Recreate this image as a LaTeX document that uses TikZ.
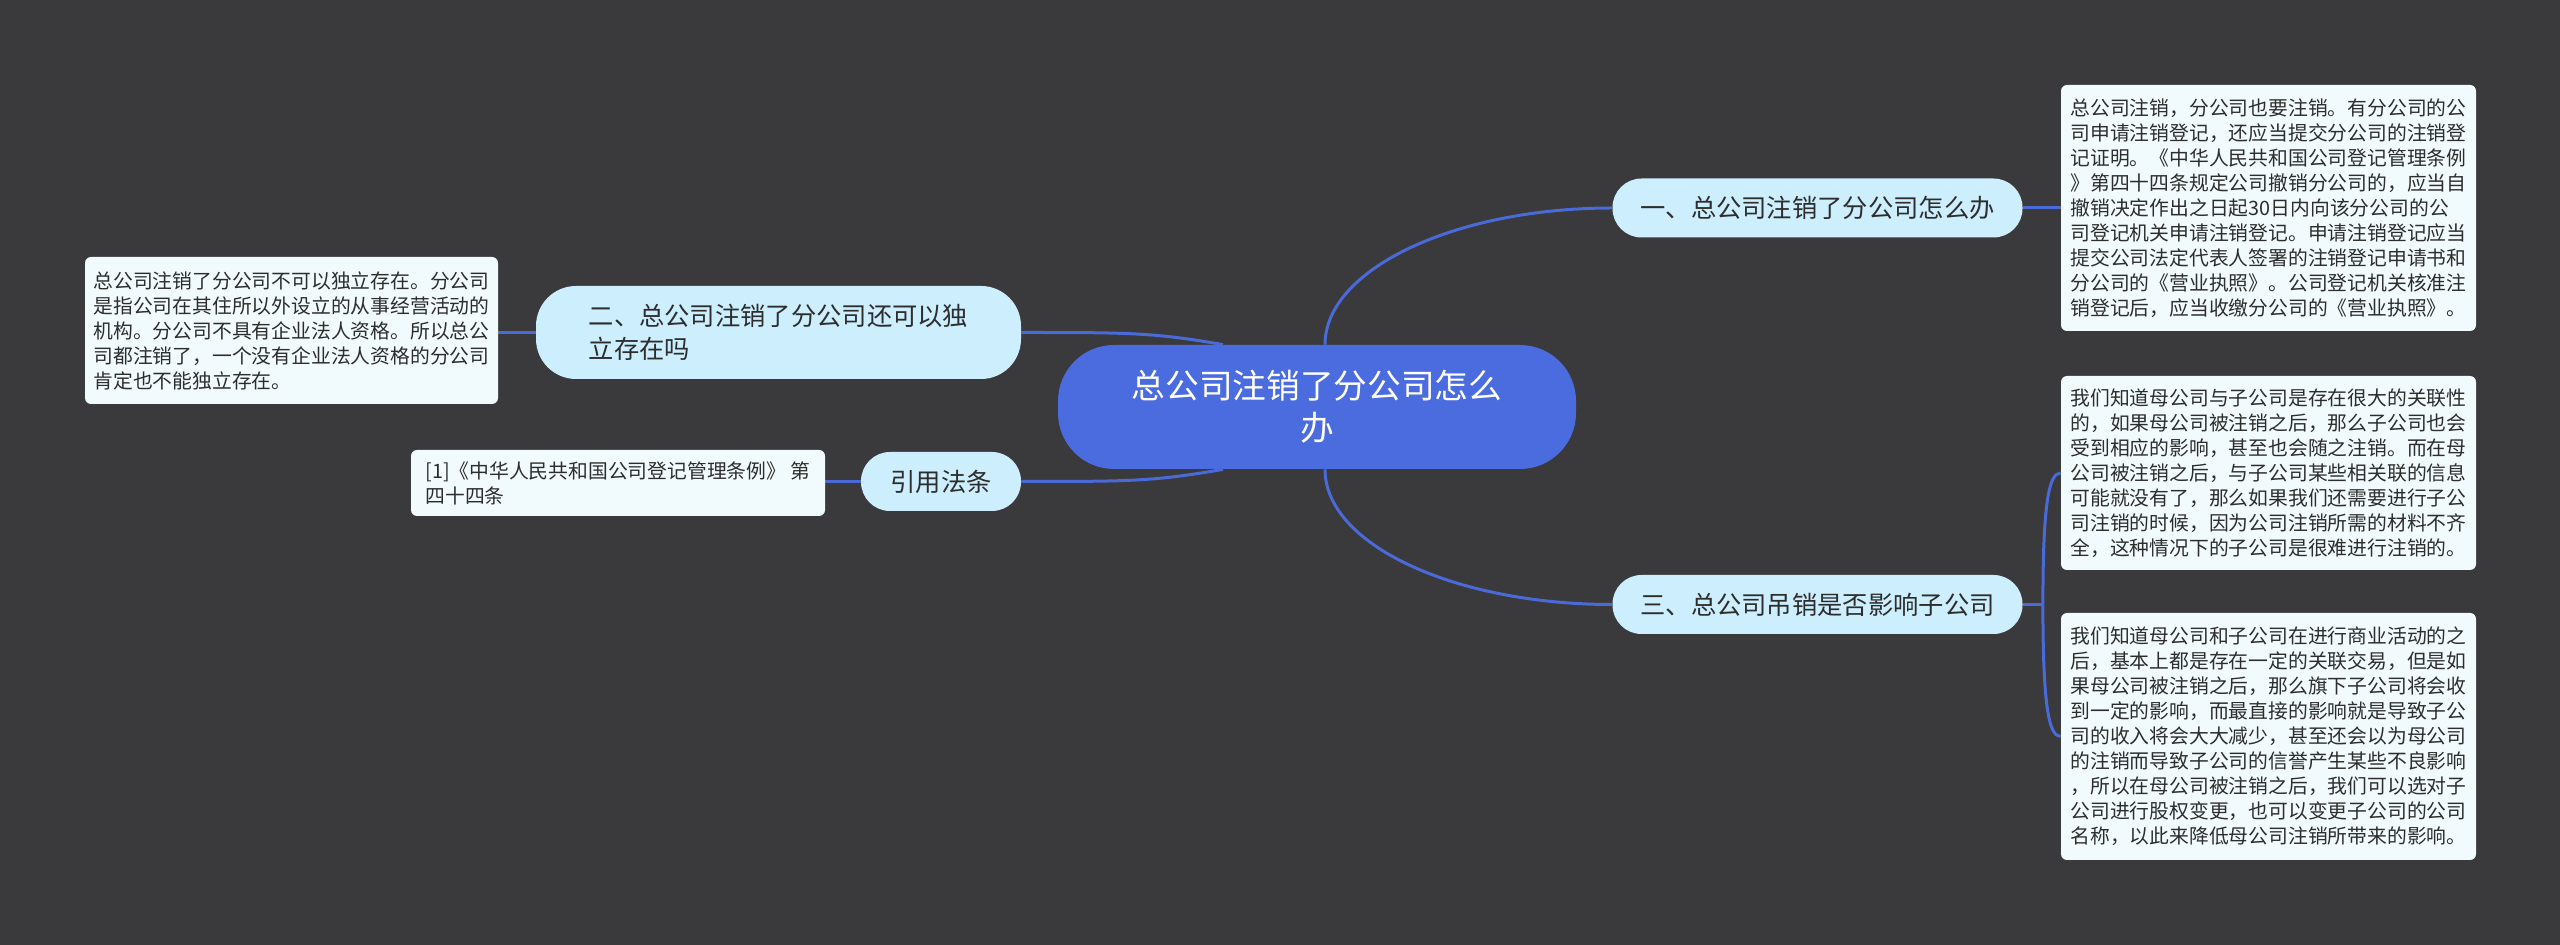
\documentclass[tikz,border=0pt]{standalone}
\usepackage{fontspec}
\setmainfont{Noto Sans CJK SC}
\usetikzlibrary{calc}
\pgfdeclarelayer{bg}
\pgfsetlayers{bg,main}
\definecolor{bgc}{RGB}{58,57,60}
\definecolor{rootc}{RGB}{75,108,222}
\definecolor{lonec}{RGB}{204,238,253}
\definecolor{leafc}{RGB}{241,251,253}
\definecolor{linec}{RGB}{74,106,216}
\definecolor{txtc}{RGB}{45,45,45}
\begin{document}
\begin{tikzpicture}[x=0.5pt,y=-0.5pt,
 rootbox/.style={fill=rootc, text=white, rounded corners=28pt, minimum width=259pt, minimum height=62pt, align=center, font=\fontsize{16.85}{21}\selectfont, inner sep=0pt},
 topicbox/.style={fill=lonec, text=txtc, rounded corners=14.5pt, minimum height=29.5pt, inner sep=0pt, font=\fontsize{12.65}{16.5}\selectfont, align=left},
 leafbox/.style={fill=leafc, text=txtc, rounded corners=3pt, inner sep=0pt, font=\fontsize{9.9}{12.5}\selectfont, align=left, minimum width=207.5pt},
 conn/.style={draw=linec, line width=1.5pt}]
\useasboundingbox (0,0) rectangle (2560,945);

\node[rootbox] (root) at (1317,407) {总公司注销了分公司怎么\\办};
\node[topicbox, minimum width=205pt] (n1) at (1817.5,208) {一、总公司注销了分公司怎么办};
\node[topicbox, minimum width=205pt] (n3) at (1817.5,604.5) {三、总公司吊销是否影响子公司};
\node[topicbox, minimum width=242.5pt, minimum height=46.5pt, rounded corners=20pt] (n2) at (778.5,332.5) {二、总公司注销了分公司还可以独\\立存在吗};
\node[topicbox, minimum width=80pt] (n4) at (941,481.5) {引用法条};

\node[leafbox, minimum height=123pt] (l1) at (2268.5,208) {总公司注销，分公司也要注销。有分公司的公\\司申请注销登记，还应当提交分公司的注销登\\记证明。《中华人民共和国公司登记管理条例\\》第四十四条规定公司撤销分公司的，应当自\\撤销决定作出之日起30日内向该分公司的公\\司登记机关申请注销登记。申请注销登记应当\\提交公司法定代表人签署的注销登记申请书和\\分公司的《营业执照》。公司登记机关核准注\\销登记后，应当收缴分公司的《营业执照》。};
\node[leafbox, minimum height=97pt] (l3a) at (2268.5,473) {我们知道母公司与子公司是存在很大的关联性\\的，如果母公司被注销之后，那么子公司也会\\受到相应的影响，甚至也会随之注销。而在母\\公司被注销之后，与子公司某些相关联的信息\\可能就没有了，那么如果我们还需要进行子公\\司注销的时候，因为公司注销所需的材料不齐\\全，这种情况下的子公司是很难进行注销的。};
\node[leafbox, minimum height=123.5pt] (l3b) at (2268.5,736.5) {我们知道母公司和子公司在进行商业活动的之\\后，基本上都是存在一定的关联交易，但是如\\果母公司被注销之后，那么旗下子公司将会收\\到一定的影响，而最直接的影响就是导致子公\\司的收入将会大大减少，甚至还会以为母公司\\的注销而导致子公司的信誉产生某些不良影响\\，所以在母公司被注销之后，我们可以选对子\\公司进行股权变更，也可以变更子公司的公司\\名称，以此来降低母公司注销所带来的影响。};
\node[leafbox, minimum width=206.5pt, minimum height=73.5pt] (l2) at (291.5,330.5) {总公司注销了分公司不可以独立存在。分公司\\是指公司在其住所以外设立的从事经营活动的\\机构。分公司不具有企业法人资格。所以总公\\司都注销了，一个没有企业法人资格的分公司\\肯定也不能独立存在。};
\node[leafbox, minimum width=207pt, minimum height=33pt] (l4) at (618,483) {[1]《中华人民共和国公司登记管理条例》 第\\四十四条};

\begin{pgfonlayer}{bg}
\fill[bgc] (0,0) rectangle (2560,945);
\draw[conn] ([xshift=4pt]root.north) .. controls +(0,-75) and +(-158,0) .. (n1.west);
\draw[conn] ([xshift=4pt]root.south) .. controls +(0,75) and +(-158,0) .. (n3.west);
\draw[conn] (n2.east) .. controls +(110,0) and +(-70,-12) .. ([xshift=-47pt]root.north);
\draw[conn] (n4.east) .. controls +(110,0) and +(-70,12) .. ([xshift=-47pt]root.south);
\draw[conn] (n1.east) -- (l1.west |- n1.east);
\draw[conn] (n2.west) -- (l2.east |- n2.west);
\draw[conn] (n4.west) -- (l4.east |- n4.west);
\draw[conn] (n3.east) -- ++(20,0) coordinate (j);
\draw[conn] (j) .. controls +(0,-100) and +(-12,0) .. (l3a.west);
\draw[conn] (j) .. controls +(0,100) and +(-12,0) .. (l3b.west);
\end{pgfonlayer}
\end{tikzpicture}
\end{document}
